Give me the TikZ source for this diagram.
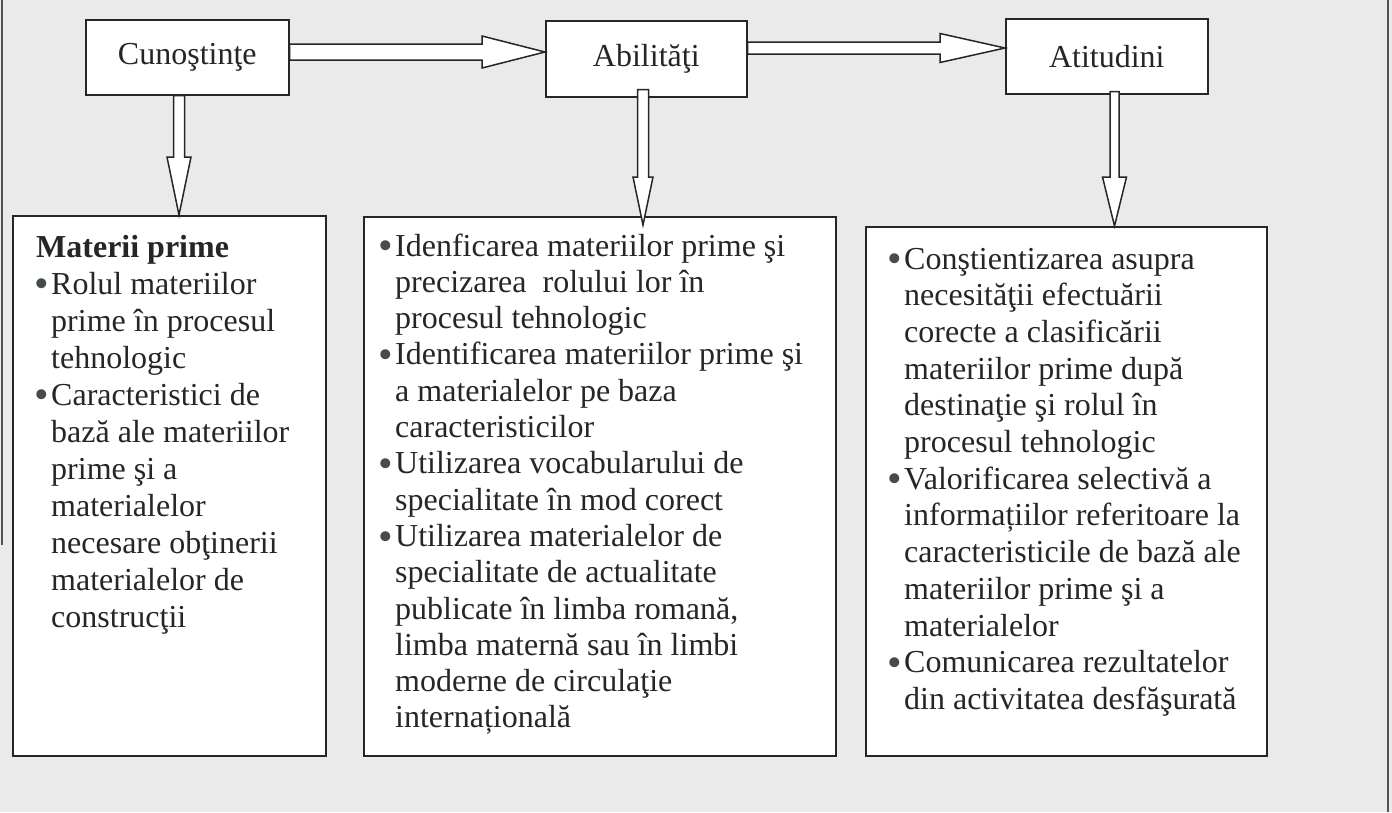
\documentclass[tikz,border=0pt]{standalone}
\usepackage{fontspec}
\setmainfont{Liberation Serif}
\usetikzlibrary{calc}
\definecolor{bgcol}{RGB}{234,234,234}
\definecolor{ink}{RGB}{38,38,38}
\definecolor{bulcol}{RGB}{70,76,76}
\newcommand{\bul}{\makebox[17pt][l]{\textcolor{bulcol}{\raisebox{-3.6pt}{\scalebox{1.3}{\textbullet}}}}}
\newcommand{\ind}{\hspace*{17pt}}
\tikzset{
  boxline/.style={draw=ink, line width=1.6pt, fill=white},
  topbox/.style={boxline, rectangle, inner sep=0pt, anchor=north west,
    font=\fontsize{32}{36}\selectfont, text=ink},
  bigbox/.style={boxline, rectangle, inner sep=0pt, anchor=north west},
  txt/.style={anchor=base west, inner sep=0pt, text=ink},
  fat/.style={draw=ink, line width=1.5pt, fill=white, line join=miter},
  frameline/.style={draw=ink!80, line width=1.2pt}
}
\begin{document}
\begin{tikzpicture}[x=1pt,y=-1pt]
\useasboundingbox (0,0) rectangle (1392,812);
\fill[bgcol] (0,0) rectangle (1392,812);
\draw[frameline] (2,0) -- (2,545);
\draw[frameline] (1388,0) -- (1388,812);

% top boxes
\node[topbox, minimum width=203pt, minimum height=75pt] (C) at (85,19) {Cunoştinţe};
\node[topbox, minimum width=201pt, minimum height=76pt] (A) at (545,20) {Abilităţi};
\node[topbox, minimum width=202pt, minimum height=75pt] (T) at (1005,18) {Atitudini};

% lower boxes
\node[bigbox, minimum width=313pt, minimum height=540pt] (L) at (12,215) {};
\node[bigbox, minimum width=472pt, minimum height=539pt] (M) at (363,216) {};
\node[bigbox, minimum width=401pt, minimum height=529pt] (R) at (865,226) {};

% texts
\node[txt, font=\fontsize{32}{37}\selectfont] (Lt) at (34,257) {\begin{minipage}[t]{285pt}\raggedright
\hspace*{2pt}\textbf{Materii prime}\\
\bul Rolul materiilor\\
\ind prime în procesul\\
\ind tehnologic\\
\bul Caracteristici de\\
\ind bază ale materiilor\\
\ind prime şi a\\
\ind materialelor\\
\ind necesare obţinerii\\
\ind materialelor de\\
\ind construcţii
\end{minipage}};

\node[txt, font=\fontsize{32}{36.3}\selectfont] (Mt) at (378,256) {\begin{minipage}[t]{450pt}\raggedright
\bul Idenficarea materiilor prime şi\\
\ind precizarea\ \ rolului lor în\\
\ind procesul tehnologic\\
\bul Identificarea materiilor prime şi\\
\ind a materialelor pe baza\\
\ind caracteristicilor\\
\bul Utilizarea vocabularului de\\
\ind specialitate în mod corect\\
\bul Utilizarea materialelor de\\
\ind specialitate de actualitate\\
\ind publicate în limba romană,\\
\ind limba maternă sau în limbi\\
\ind moderne de circulaţie\\
\ind internațională
\end{minipage}};

\node[txt, font=\fontsize{32}{36.7}\selectfont] (Rt) at (887,269) {\begin{minipage}[t]{380pt}\raggedright
\bul Conştientizarea asupra\\
\ind necesităţii efectuării\\
\ind corecte a clasificării\\
\ind materiilor prime după\\
\ind destinaţie şi rolul în\\
\ind procesul tehnologic\\
\bul Valorificarea selectivă a\\
\ind informațiilor referitoare la\\
\ind caracteristicile de bază ale\\
\ind materiilor prime şi a\\
\ind materialelor\\
\bul Comunicarea rezultatelor\\
\ind din activitatea desfăşurată
\end{minipage}};

% horizontal fat arrows
\draw[fat] (C.east |- 0,44) -- (482,44) -- (482,36) -- (A.west |- 0,52)
  -- (482,68) -- (482,60) -- (C.east |- 0,60) -- cycle;
\draw[fat] (A.east |- 0,42) -- (940,42) -- (940,33.5) -- (T.west |- 0,48)
  -- (940,62.5) -- (940,54) -- (A.east |- 0,54) -- cycle;

% vertical fat arrows
\coordinate (a2) at ($(A.south)+(0,-8)$);
\coordinate (t2) at ($(T.south)+(0,-3)$);
\draw[fat] (173.5,0 |- C.south) -- (173.5,157) -- (167,157) -- (179,0 |- L.north)
  -- (191,157) -- (184.5,157) -- (184.5,0 |- C.south) -- cycle;
\draw[fat] (637.5,0 |- a2) -- (637.5,177) -- (633,177) -- (643,225)
  -- (653,177) -- (648.5,177) -- (648.5,0 |- a2) -- cycle;
\draw[fat] (1110,0 |- t2) -- (1110,177) -- (1102.5,177) -- (1114.5,0 |- R.north)
  -- (1126.5,177) -- (1119,177) -- (1119,0 |- t2) -- cycle;
\end{tikzpicture}
\end{document}
